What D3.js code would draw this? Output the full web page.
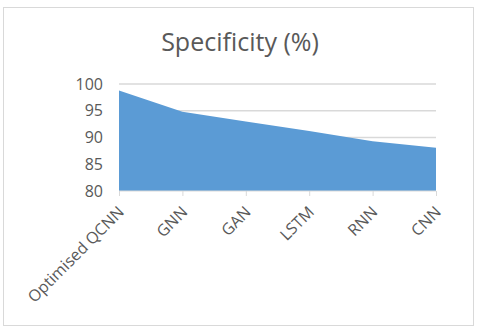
<!DOCTYPE html>
<html>
<head>
<meta charset="utf-8">
<script src="https://cdn.jsdelivr.net/npm/d3@7"></script>
<style>
  body { margin: 0; background: #fff; }
  text { font-family: "Open Sans", "Noto Sans", sans-serif; fill: #595959; }
</style>
</head>
<body>
<div id="chart"></div>
<script>
var categories = ["Optimised QCNN", "GNN", "GAN", "LSTM", "RNN", "CNN"];
var specificity = [98.8, 94.8, 93.0, 91.2, 89.3, 88.1];
var yTicks = [80, 85, 90, 95, 100];

var width = 480, height = 333;
var plotLeft = 119, plotRight = 436, plotTop = 84, plotBottom = 191;

var svg = d3.select("#chart")
  .append("svg")
  .attr("width", width)
  .attr("height", height);

// chart border
svg.append("rect")
  .attr("x", 3.5)
  .attr("y", 7.5)
  .attr("width", 470)
  .attr("height", 318)
  .attr("fill", "#fff")
  .attr("stroke", "#d9d9d9");

svg.append("text")
  .attr("x", 240)
  .attr("y", 51)
  .attr("text-anchor", "middle")
  .style("font-size", "25px")
  .text("Specificity (%)");

var x = d3.scalePoint()
  .domain(categories)
  .range([plotLeft, plotRight]);

var y = d3.scaleLinear()
  .domain([80, 100])
  .range([plotBottom, plotTop]);

// gridlines
svg.append("g")
  .selectAll("line")
  .data(yTicks.slice(1))
  .enter()
  .append("line")
  .attr("x1", plotLeft)
  .attr("x2", plotRight)
  .attr("y1", function (d) { return y(d); })
  .attr("y2", function (d) { return y(d); })
  .attr("stroke", "#d9d9d9")
  .attr("stroke-width", 1.3);

var area = d3.area()
  .x(function (d, i) { return x(categories[i]); })
  .y0(y(80))
  .y1(function (d) { return y(d); });

svg.append("path")
  .datum(specificity)
  .attr("d", area)
  .attr("fill", "#5b9bd5");

// y axis labels
var yAxis = d3.axisLeft(y).tickValues(yTicks).tickSize(0).tickPadding(16);
var gy = svg.append("g")
  .attr("transform", "translate(" + plotLeft + ",0)")
  .call(yAxis);
gy.select(".domain").remove();
gy.selectAll("text").style("font-size", "16px").attr("fill", "#595959");

// x axis
var xAxis = d3.axisBottom(x).tickSize(5).tickFormat("");
var gx = svg.append("g")
  .attr("transform", "translate(0," + plotBottom + ")")
  .call(xAxis);
gx.select(".domain").attr("stroke", "#d9d9d9").attr("d", "M" + plotLeft + ",0H" + plotRight);
gx.selectAll(".tick line").attr("stroke", "#d9d9d9");

svg.append("g")
  .selectAll("text")
  .data(categories)
  .enter()
  .append("text")
  .attr("text-anchor", "end")
  .attr("transform", function (d) {
    return "translate(" + (x(d) + 6) + "," + (plotBottom + 22) + ") rotate(-45)";
  })
  .style("font-size", "16px")
  .text(function (d) { return d; });
</script>
</body>
</html>
